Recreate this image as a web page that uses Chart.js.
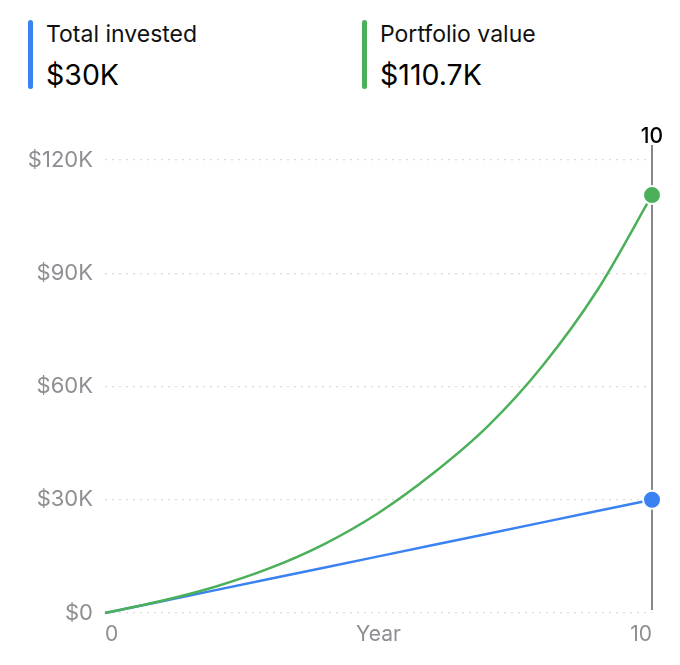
<!DOCTYPE html>
<html>
<head>
<meta charset="utf-8">
<script src="https://cdn.jsdelivr.net/npm/chart.js@4.4.1/dist/chart.umd.min.js"></script>
<style>
  html, body { margin: 0; padding: 0; background: #fff; }
  body { width: 680px; height: 665px; position: relative; font-family: Inter, "Noto Sans", sans-serif; overflow: hidden; }
  .stat { position: absolute; top: 20px; height: 69px; padding-left: 17px; }
  .stat .bar { position: absolute; left: 0; top: 0; width: 5px; height: 69px; border-radius: 3px; }
  .stat .lbl { position: absolute; left: 18px; top: 0px; font-size: 23px; color: #111; white-space: nowrap; }
  .stat .val { position: absolute; left: 18px; top: 37px; font-size: 28.5px; color: #000; white-space: nowrap; }
  #wrap { position: absolute; left: 0; top: 110px; width: 680px; height: 555px; }
</style>
</head>
<body>
<div class="stat" style="left:28px"><div class="bar" id="bar-inv"></div><div class="lbl" id="lbl-inv"></div><div class="val" id="val-inv"></div></div>
<div class="stat" style="left:362px"><div class="bar" id="bar-port"></div><div class="lbl" id="lbl-port"></div><div class="val" id="val-port"></div></div>
<div id="wrap"><canvas id="chart"></canvas></div>

<script>
// ---- datos ----
const years     = [0, 1, 2, 3, 4, 5, 6, 7, 8, 9, 10];
const invested  = [0, 3000, 6000, 9000, 12000, 15000, 18000, 21000, 24000, 27000, 30000];
const portfolio = [0, 3100, 6900, 11800, 18200, 26500, 37000, 49500, 65500, 85500, 110700];
const yTicks    = [0, 30000, 60000, 90000, 120000];
const xLabels   = { 0: '0', 5: 'Year', 10: '10' };
const seriesNames = ['Total invested', 'Portfolio value'];

const BLUE  = '#3a82f2';
const GREEN = '#4cb05a';

const fmtK = v => v === 0 ? '$0' : '$' + (Math.round(v / 100) / 10) + 'K';

// cabecera
const last = years.length - 1;
document.getElementById('bar-inv').style.background  = BLUE;
document.getElementById('bar-port').style.background = GREEN;
document.getElementById('lbl-inv').textContent  = seriesNames[0];
document.getElementById('lbl-port').textContent = seriesNames[1];
document.getElementById('val-inv').textContent  = fmtK(invested[last]);
document.getElementById('val-port').textContent = fmtK(portfolio[last]);

// linea vertical en el ultimo año
const cursorLine = {
  id: 'cursorLine',
  beforeDatasetsDraw(chart) {
    const { ctx, scales: { x, y } } = chart;
    const px = x.getPixelForValue(years[last]);
    ctx.save();
    ctx.strokeStyle = '#5f5f5f';
    ctx.lineWidth = 1.5;
    ctx.beginPath();
    ctx.moveTo(px, y.top - 15);
    ctx.lineTo(px, y.bottom - 3);
    ctx.stroke();
    ctx.fillStyle = '#000';
    ctx.font = '500 21px Inter, "Noto Sans", sans-serif';
    ctx.textAlign = 'center';
    ctx.textBaseline = 'middle';
    ctx.fillText(String(years[last]), px, y.top - 23);
    ctx.restore();
  }
};

const dotRadius = ctx => ctx.dataIndex === last ? 9 : 0;

new Chart(document.getElementById('chart'), {
  type: 'line',
  data: {
    datasets: [
      {
        label: seriesNames[1],
        data: years.map((yr, i) => ({ x: yr, y: portfolio[i] })),
        borderColor: GREEN,
        backgroundColor: GREEN,
        borderWidth: 2.5,
        cubicInterpolationMode: 'monotone',
        pointRadius: dotRadius,
        pointHoverRadius: dotRadius,
        pointBorderColor: '#fff',
        pointBorderWidth: 2,
        clip: false
      },
      {
        label: seriesNames[0],
        data: years.map((yr, i) => ({ x: yr, y: invested[i] })),
        borderColor: BLUE,
        backgroundColor: BLUE,
        borderWidth: 2.5,
        pointRadius: dotRadius,
        pointHoverRadius: dotRadius,
        pointBorderColor: '#fff',
        pointBorderWidth: 2,
        clip: false
      }
    ]
  },
  options: {
    responsive: true,
    maintainAspectRatio: false,
    animation: false,
    layout: { padding: { top: 50, right: 28, left: 0, bottom: 0 } },
    plugins: { legend: { display: false }, tooltip: { enabled: false } },
    scales: {
      x: {
        type: 'linear',
        min: years[0],
        max: years[last],
        grid: { display: false, drawTicks: false },
        border: { display: false },
        afterBuildTicks: axis => { axis.ticks = Object.keys(xLabels).map(v => ({ value: +v })); },
        afterFit: axis => { axis.height = 52; },
        ticks: {
          autoSkip: false,
          maxRotation: 0,
          align: 'inner',
          padding: 9,
          color: '#8e8e93',
          font: { size: 21, family: 'Inter, "Noto Sans", sans-serif' },
          callback: v => xLabels[v] ?? ''
        }
      },
      y: {
        min: yTicks[0],
        max: yTicks[yTicks.length - 1],
        afterBuildTicks: axis => { axis.ticks = yTicks.map(v => ({ value: v })); },
        afterFit: axis => { axis.width = 105; },
        grid: { color: '#dcdcdc', lineWidth: 1.2, drawTicks: false },
        border: { display: false, dash: [2, 5] },
        ticks: {
          padding: 12,
          color: '#8e8e93',
          font: { size: 22, family: 'Inter, "Noto Sans", sans-serif' },
          callback: v => fmtK(v)
        }
      }
    }
  },
  plugins: [cursorLine]
});
</script>
</body>
</html>
